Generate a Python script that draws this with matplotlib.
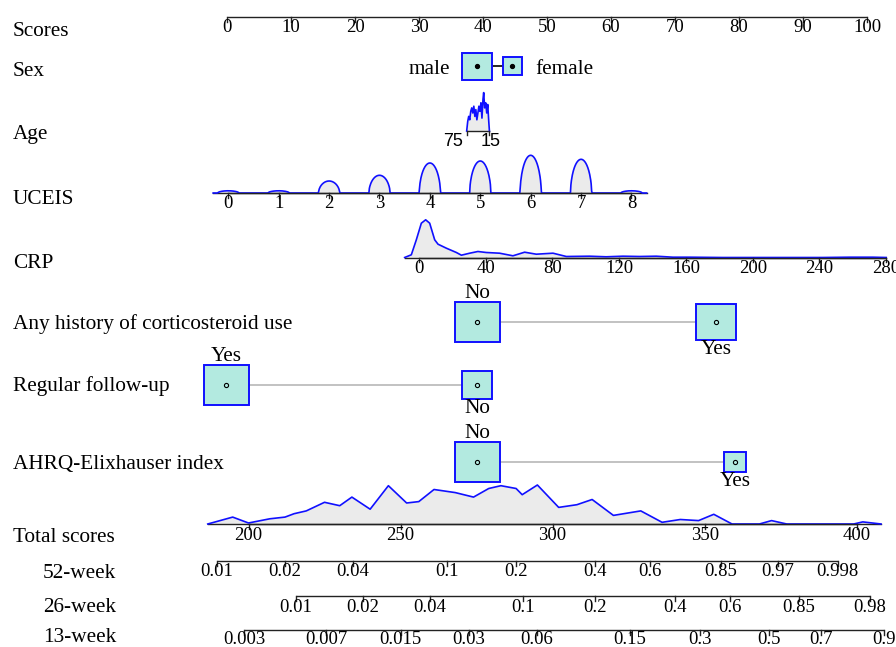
import numpy as np
import matplotlib
matplotlib.use("Agg")
import matplotlib.pyplot as plt
from matplotlib.patches import Rectangle

# ── Data ──────────────────────────────────────────────────────────────────────

score_ticks = [0, 10, 20, 30, 40, 50, 60, 70, 80, 90, 100]

sex_levels = ["male", "female"]
sex_points = [39.1, 44.6]
sex_freq = [0.71, 0.29]

age_ends = [75, 15]
age_end_points = [37.45, 40.9]
age_dens_x = [75, 72.2, 69.5, 66.7, 63.9, 61.2, 58.4, 55.6, 52.8, 50.1, 47.3, 44.5,
              41.8, 39.0, 36.2, 33.5, 30.7, 28.8, 26.1, 23.3, 20.5, 17.8, 15.0, 13.2]
age_dens_h = [0, 9.5, 14.6, 11.2, 19.7, 23.1, 18.0, 24.8, 14.6, 21.4, 11.2, 18.0,
              24.8, 19.7, 28.2, 12.9, 31.6, 38.4, 23.1, 28.2, 18.0, 26.5, 9.5, 0]

uceis_ticks = [0, 1, 2, 3, 4, 5, 6, 7, 8]
uceis_end_points = [0.2, 63.2]
uceis_dens_h = [2.2, 2.2, 12, 17.7, 30, 32, 37.7, 33.7, 2.2]

crp_ticks = [0, 40, 80, 120, 160, 200, 240, 280]
crp_end_points = [30.0, 103.0]
crp_dens_x = [-8.6, -4.6, -1.6, 1.4, 4.0, 6.4, 9.4, 11.4, 16.4, 22.4, 25.4, 30.4, 35.3,
              40.3, 48.3, 56.3, 63.3, 70.3, 80.3, 88.3, 102.2, 112.2, 122.2, 132.2,
              142.2, 152.2, 162.2, 182, 242, 258, 272, 280]
crp_dens_h = [0, 2.7, 17.7, 34.3, 37.7, 34.3, 17.7, 13.3, 9.3, 5.0, 2.3, 4.3, 6.0,
              5.0, 4.3, 1.7, 5.3, 3.3, 4.3, 1.0, 1.3, 0.7, 1.3, 1.0,
              1.3, 0.3, 0.3, 0, 0, 0.3, 0.3, 0]

cort_levels = ["No", "Yes"]
cort_points = [39.1, 76.4]
cort_freq = [0.56, 0.44]

follow_levels = ["Yes", "No"]
follow_points = [-0.1, 39.1]
follow_freq = [0.69, 0.31]

ahrq_levels = ["No", "Yes"]
ahrq_points = [39.1, 79.4]
ahrq_freq = [0.81, 0.19]

total_ticks = [200, 250, 300, 350, 400]
total_end_points = [3.36, 98.39]     # points position of total 200 and 400
total_dens_x = [186.6, 194.8, 200, 207, 212, 215, 219, 225, 230, 234, 240, 246, 252,
                256, 261, 268, 274, 279, 283, 288, 290, 295, 302, 308, 313, 320,
                329, 336, 342, 348, 353, 359, 368, 372, 377, 399, 402, 408]
total_dens_h = [0, 6.9, 1.0, 5.2, 6.9, 10.3, 13.1, 21.7, 18.3, 26.9, 14.8, 38.3, 21.0,
                22.4, 34.5, 31.4, 26.9, 35.5, 38.3, 35.5, 29.3, 39.0, 16.6, 19.3, 24.5,
                8.6, 13.1, 1.7, 4.5, 3.4, 9.7, 0, 0, 3.4, 0, 0, 2.1, 0]

w52_labels = ["0.01", "0.02", "0.04", "0.1", "0.2", "0.4", "0.6", "0.85", "0.97", "0.998"]
w52_total = [189.5, 212.0, 234.2, 265.3, 287.8, 314.1, 332.0, 355.4, 374.1, 393.7]

w26_labels = ["0.01", "0.02", "0.04", "0.1", "0.2", "0.4", "0.6", "0.85", "0.98"]
w26_total = [215.5, 237.5, 259.7, 290.3, 314.1, 340.1, 358.3, 380.9, 404.4]

w13_labels = ["0.003", "0.007", "0.015", "0.03", "0.06", "0.15", "0.3", "0.5", "0.7", "0.9"]
w13_total = [198.5, 225.5, 250.0, 272.5, 294.9, 325.5, 348.6, 371.2, 388.4, 409.0]

# ── Layout / style ────────────────────────────────────────────────────────────

PX_PER_PT = 6.40          # horizontal pixels per point
X0_PX = 227               # pixel position of 0 points
SERIF = "Liberation Serif"
BLUE = "#1010FF"
FILL = "#EBEBEB"
BOX = "#B3EAE0"
AX_COL = "#222222"
ROW_FS = 15.3
TICK_FS = 13.5
TXT_DY = 3                # va="center" sits a little high for serif text


def lin(v, vals, pts):
    return pts[0] + (np.asarray(v, float) - vals[0]) * (pts[1] - pts[0]) / (vals[1] - vals[0])


def total_to_pts(t):
    return lin(t, [200, 400], total_end_points)


def row_label(ax, x, y, s):
    ax.text(x, y + TXT_DY, s, va="center", fontsize=ROW_FS, family=SERIF)


def draw_axis(ax, xs, labels, y, fs=TICK_FS, font=SERIF, lab_dy=11):
    ax.plot([min(xs), max(xs)], [y, y], color=AX_COL, lw=1.0, solid_capstyle="butt")
    for x, lab in zip(xs, labels):
        ax.plot([x, x], [y, y + 4.5], color=AX_COL, lw=1.0)
        ax.text(x, y + lab_dy, lab, ha="center", va="center", fontsize=fs, family=font)


def draw_density(ax, xs, hs, base):
    xs = np.asarray(xs, float)
    top = base - np.asarray(hs, float)
    ax.fill_between(xs, base, top, color=FILL, lw=0)
    ax.plot([xs.min(), xs.max()], [base, base], color=AX_COL, lw=1.0)
    ax.plot(xs, top, color=BLUE, lw=1.2)


def draw_boxes(ax, pts, freq, levels, y, wmax, label_mode):
    fmax = max(freq)
    sizes = [wmax * np.sqrt(f / fmax) for f in freq]
    if label_mode == "side":
        ax.plot(pts, [y, y], color="black", lw=1.2, zorder=2)
    else:
        # grey connector between box edges
        ax.plot([pts[0] + sizes[0] / 2 / PX_PER_PT, pts[1] - sizes[1] / 2 / PX_PER_PT],
                [y, y], color="#BDBDBD", lw=1.3, zorder=2)
    for i, (p, s, lab) in enumerate(zip(pts, sizes, levels)):
        w = s / PX_PER_PT
        h = s * 0.9
        ax.add_patch(Rectangle((p - w / 2, y - h / 2), w, h, facecolor=BOX,
                               edgecolor=BLUE, lw=1.4, zorder=3))
        if label_mode == "side":
            ax.plot(p, y, "o", color="black", ms=2.8, zorder=4)
            if i == 0:
                ax.text(p - w / 2 - 12 / PX_PER_PT, y + TXT_DY, lab, ha="right", va="center",
                        fontsize=ROW_FS, family=SERIF)
            else:
                ax.text(p + w / 2 + 13 / PX_PER_PT, y + TXT_DY, lab, ha="left", va="center",
                        fontsize=ROW_FS, family=SERIF)
        else:
            ax.plot(p, y, "o", mfc="none", mec="black", mew=0.8, ms=3, zorder=4)
            if i == 0:
                ax.text(p, y - h / 2 + 1, lab, ha="center", va="bottom",
                        fontsize=ROW_FS, family=SERIF)
            else:
                ax.text(p, y + h / 2, lab, ha="center", va="top",
                        fontsize=ROW_FS, family=SERIF)


fig = plt.figure(figsize=(8.96, 6.47), dpi=100)
ax = fig.add_axes([0, 0, 1, 1])
ax.set_xlim(-X0_PX / PX_PER_PT, (896 - X0_PX) / PX_PER_PT)
ax.set_ylim(647, 0)
ax.axis("off")

row_x = -X0_PX / PX_PER_PT + 13 / PX_PER_PT
week_x = -X0_PX / PX_PER_PT + 43 / PX_PER_PT

# Scores
draw_axis(ax, score_ticks, [str(t) for t in score_ticks], 17)
row_label(ax, row_x, 28, "Scores")

# Sex
draw_boxes(ax, sex_points, sex_freq, sex_levels, 66, 30, "side")
row_label(ax, row_x, 68, "Sex")

# Age
age_base = 131
draw_density(ax, lin(age_dens_x, age_ends, age_end_points), age_dens_h, age_base)
for a, p in zip(age_ends, age_end_points):
    ax.plot([p, p], [age_base, age_base + 4], color=AX_COL, lw=1.0)
ax.text(age_end_points[0] - 0.5, age_base + 10, str(age_ends[0]), ha="right", va="center",
        fontsize=13, family="Liberation Sans")
ax.text(age_end_points[1] + 0.3, age_base + 10, str(age_ends[1]), ha="center", va="center",
        fontsize=13, family="Liberation Sans")
row_label(ax, row_x, 131, "Age")

# UCEIS
uc_base = 193
ug = np.linspace(-0.3, 8.3, 900)
uh = np.zeros_like(ug)
for k, hk in zip(uceis_ticks, uceis_dens_h):
    d = np.clip(1 - ((ug - k) / 0.21) ** 2, 0, None)
    uh += hk * d ** 0.55
draw_density(ax, lin(ug, [0, 8], uceis_end_points), uh, uc_base)
draw_axis(ax, lin(uceis_ticks, [0, 8], uceis_end_points), [str(t) for t in uceis_ticks], uc_base)
row_label(ax, row_x, 196, "UCEIS")

# CRP
crp_base = 257.5
draw_density(ax, lin(crp_dens_x, [0, 280], crp_end_points), crp_dens_h, crp_base)
draw_axis(ax, lin(crp_ticks, [0, 280], crp_end_points), [str(t) for t in crp_ticks], crp_base)
row_label(ax, row_x, 261, "CRP")

# Categorical rows
draw_boxes(ax, cort_points, cort_freq, cort_levels, 322, 45, "updown")
row_label(ax, row_x, 321, "Any history of corticosteroid use")

draw_boxes(ax, follow_points, follow_freq, follow_levels, 385, 45, "updown")
row_label(ax, row_x, 383, "Regular follow-up")

draw_boxes(ax, ahrq_points, ahrq_freq, ahrq_levels, 462, 45, "updown")
row_label(ax, row_x, 461, "AHRQ-Elixhauser index")

# Total scores
tot_base = 524
draw_density(ax, total_to_pts(total_dens_x), total_dens_h, tot_base)
draw_axis(ax, total_to_pts(total_ticks), [str(t) for t in total_ticks], tot_base)
row_label(ax, row_x, 534, "Total scores")

# Probability axes
draw_axis(ax, total_to_pts(w52_total), w52_labels, 561)
row_label(ax, week_x, 571, "52-week")
draw_axis(ax, total_to_pts(w26_total), w26_labels, 596)
row_label(ax, week_x, 604, "26-week")
draw_axis(ax, total_to_pts(w13_total), w13_labels, 630, lab_dy=9)
row_label(ax, week_x, 635, "13-week")

fig.savefig("out.png", dpi=100)
